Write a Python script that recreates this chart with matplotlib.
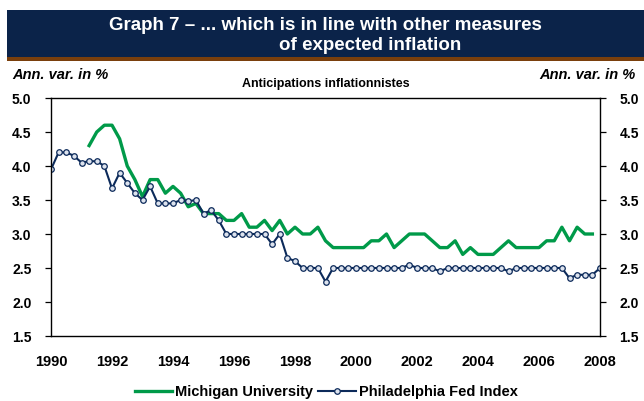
import numpy as np
import matplotlib
matplotlib.use("Agg")
import matplotlib.pyplot as plt
from matplotlib.patches import Rectangle

plt.rcParams["font.family"] = ["Liberation Sans", "DejaVu Sans"]

# quarterly observations, 1990Q1 .. 2008Q1
quarters = np.arange(73) / 4.0 + 1990

philly = [3.95, 4.2, 4.2, 4.15, 4.05, 4.07, 4.07, 4.0, 3.67, 3.9,
          3.75, 3.6, 3.5, 3.7, 3.45, 3.45, 3.45, 3.5, 3.48, 3.5,
          3.3, 3.35, 3.2, 3.0, 3.0, 3.0, 3.0, 3.0, 3.0, 2.85,
          3.0, 2.65, 2.6, 2.5, 2.5, 2.5, 2.3, 2.5, 2.5, 2.5,
          2.5, 2.5, 2.5, 2.5, 2.5, 2.5, 2.5, 2.55, 2.5, 2.5,
          2.5, 2.45, 2.5, 2.5, 2.5, 2.5, 2.5, 2.5, 2.5, 2.5,
          2.45, 2.5, 2.5, 2.5, 2.5, 2.5, 2.5, 2.5, 2.35, 2.4,
          2.4, 2.4, 2.5]

nan = np.nan
michigan = [nan, nan, nan, nan, nan, 4.3, 4.5, 4.6, 4.6, 4.4,
            4.0, 3.8, 3.55, 3.8, 3.8, 3.6, 3.7, 3.6, 3.4, 3.45,
            3.3, 3.3, 3.3, 3.2, 3.2, 3.3, 3.1, 3.1, 3.2, 3.05,
            3.2, 3.0, 3.1, 3.0, 3.0, 3.1, 2.9, 2.8, 2.8, 2.8,
            2.8, 2.8, 2.9, 2.9, 3.0, 2.8, 2.9, 3.0, 3.0, 3.0,
            2.9, 2.8, 2.8, 2.9, 2.7, 2.8, 2.7, 2.7, 2.7, 2.8,
            2.9, 2.8, 2.8, 2.8, 2.8, 2.9, 2.9, 3.1, 2.9, 3.1,
            3.0, 3.0, nan]

year_ticks = list(range(1990, 2009, 2))
y_ticks = [1.5, 2.0, 2.5, 3.0, 3.5, 4.0, 4.5, 5.0]

green = "#009a49"
navy = "#0c2a5a"

fig = plt.figure(figsize=(6.44, 4.01), dpi=100)
fig.set_facecolor("white")

# header band
fig.patches.append(Rectangle((7 / 644, 1 - 57 / 401), 637 / 644, 47 / 401,
                             transform=fig.transFigure, facecolor="#0b2349",
                             edgecolor="none"))
fig.patches.append(Rectangle((7 / 644, 1 - 61 / 401), 637 / 644, 4 / 401,
                             transform=fig.transFigure, facecolor="#7a3f0c",
                             edgecolor="none"))
fig.text(325 / 644, 1 - 25 / 401, "Graph 7 – ... which is in line with other measures",
         ha="center", va="center", color="white", fontsize=13.5, fontweight="bold")
fig.text(370 / 644, 1 - 45 / 401, "of expected inflation",
         ha="center", va="center", color="white", fontsize=13.5, fontweight="bold")

fig.text(12 / 644, 1 - 75 / 401, "Ann. var. in %", ha="left", va="center",
         fontsize=10.5, fontweight="bold", style="italic")
fig.text(636 / 644, 1 - 75 / 401, "Ann. var. in %", ha="right", va="center",
         fontsize=10.5, fontweight="bold", style="italic")
fig.text(326 / 644, 1 - 84 / 401, "Anticipations inflationnistes", ha="center",
         va="center", fontsize=9, fontweight="bold")

ax = fig.add_axes([51 / 644, 1 - 336 / 401, 549 / 644, 238 / 401])
ax.plot(quarters, michigan, color=green, linewidth=2.4, label="Michigan University")
ax.plot(quarters, philly, color=navy, linewidth=1.5, marker="o", markersize=4,
        markerfacecolor="#dde3ee", markeredgecolor=navy, markeredgewidth=0.9,
        label="Philadelphia Fed Index")

ax.set_xlim(1990, 2008)
ax.set_ylim(1.5, 5.0)
ax.set_xticks(year_ticks)
ax.set_yticks(y_ticks)
ax.set_yticklabels([f"{v:.1f}" for v in y_ticks], fontweight="bold", fontsize=10)
ax.set_xticklabels([str(y) for y in year_ticks], fontweight="bold", fontsize=10.5)
ax.tick_params(axis="x", length=0, pad=14)
ax.tick_params(axis="y", direction="out", length=4, width=0.9, pad=10,
               left=True, right=True, labelleft=True, labelright=True)
for side in ["left", "right", "top", "bottom"]:
    ax.spines[side].set_linewidth(1.0)
    ax.spines[side].set_color("black")

fig.legend(loc="center", bbox_to_anchor=(326 / 644, 1 - 392 / 401), ncol=2,
           frameon=False, handlelength=2.6, handletextpad=0.2, columnspacing=0.3,
           prop={"weight": "bold", "size": 10.5})

plt.savefig("out.png", dpi=100)
plt.close()
